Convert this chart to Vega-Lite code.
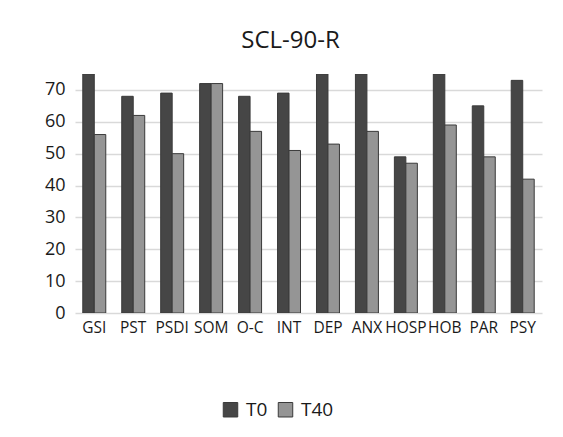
{
  "$schema": "https://vega.github.io/schema/vega-lite/v6.json",
  "width": 467,
  "height": 239,
  "autosize": "none",
  "padding": {"left": 75, "top": 74, "right": 21, "bottom": 124},
  "background": "white",
  "title": {
    "text": "SCL-90-R",
    "fontSize": 24,
    "font": "Open Sans",
    "fontWeight": "normal",
    "color": "#1a1a1a",
    "anchor": "middle",
    "frame": "group",
    "dx": -18,
    "offset": 21
  },
  "data": {
    "values": [
      {"scale": "GSI", "time": "T0", "value": 75},
      {"scale": "GSI", "time": "T40", "value": 56},
      {"scale": "PST", "time": "T0", "value": 68},
      {"scale": "PST", "time": "T40", "value": 62},
      {"scale": "PSDI", "time": "T0", "value": 69},
      {"scale": "PSDI", "time": "T40", "value": 50},
      {"scale": "SOM", "time": "T0", "value": 72},
      {"scale": "SOM", "time": "T40", "value": 72},
      {"scale": "O-C", "time": "T0", "value": 68},
      {"scale": "O-C", "time": "T40", "value": 57},
      {"scale": "INT", "time": "T0", "value": 69},
      {"scale": "INT", "time": "T40", "value": 51},
      {"scale": "DEP", "time": "T0", "value": 75},
      {"scale": "DEP", "time": "T40", "value": 53},
      {"scale": "ANX", "time": "T0", "value": 75},
      {"scale": "ANX", "time": "T40", "value": 57},
      {"scale": "HOSP", "time": "T0", "value": 49},
      {"scale": "HOSP", "time": "T40", "value": 47},
      {"scale": "HOB", "time": "T0", "value": 75},
      {"scale": "HOB", "time": "T40", "value": 59},
      {"scale": "PAR", "time": "T0", "value": 65},
      {"scale": "PAR", "time": "T40", "value": 49},
      {"scale": "PSY", "time": "T0", "value": 73},
      {"scale": "PSY", "time": "T40", "value": 42}
    ]
  },
  "mark": {"type": "bar", "stroke": "#3a3a3a", "strokeWidth": 1, "clip": true},
  "encoding": {
    "x": {
      "field": "scale",
      "type": "nominal",
      "sort": null,
      "scale": {"paddingInner": 0.41, "paddingOuter": 0.2},
      "axis": {
        "title": null,
        "labelAngle": 0,
        "labelFont": "Open Sans",
        "labelFontSize": 15.5,
        "labelColor": "#1a1a1a",
        "labelPadding": 7,
        "ticks": false,
        "domain": false,
        "grid": false,
        "labelOverlap": false
      }
    },
    "xOffset": {"field": "time", "type": "nominal", "sort": ["T0", "T40"]},
    "y": {
      "field": "value",
      "type": "quantitative",
      "scale": {"domain": [0, 75], "nice": false},
      "axis": {
        "title": null,
        "values": [0, 10, 20, 30, 40, 50, 60, 70],
        "labelFont": "Open Sans",
        "labelFontSize": 18,
        "labelColor": "#1a1a1a",
        "labelPadding": 10,
        "ticks": false,
        "domain": false,
        "grid": true,
        "gridColor": "#d9d9d9",
        "gridWidth": 1.5
      }
    },
    "color": {
      "field": "time",
      "type": "nominal",
      "sort": ["T0", "T40"],
      "scale": {"domain": ["T0", "T40"], "range": ["#464646", "#959595"]},
      "legend": {
        "title": null,
        "orient": "none",
        "direction": "horizontal",
        "legendX": 146,
        "legendY": 326,
        "symbolType": "square",
        "symbolSize": 210,
        "symbolStrokeColor": "#3a3a3a",
        "symbolStrokeWidth": 1,
        "labelFont": "Open Sans",
        "labelFontSize": 19,
        "labelColor": "#1a1a1a",
        "labelOffset": 6,
        "columnPadding": 8
      }
    }
  },
  "config": {"view": {"stroke": null}}
}
